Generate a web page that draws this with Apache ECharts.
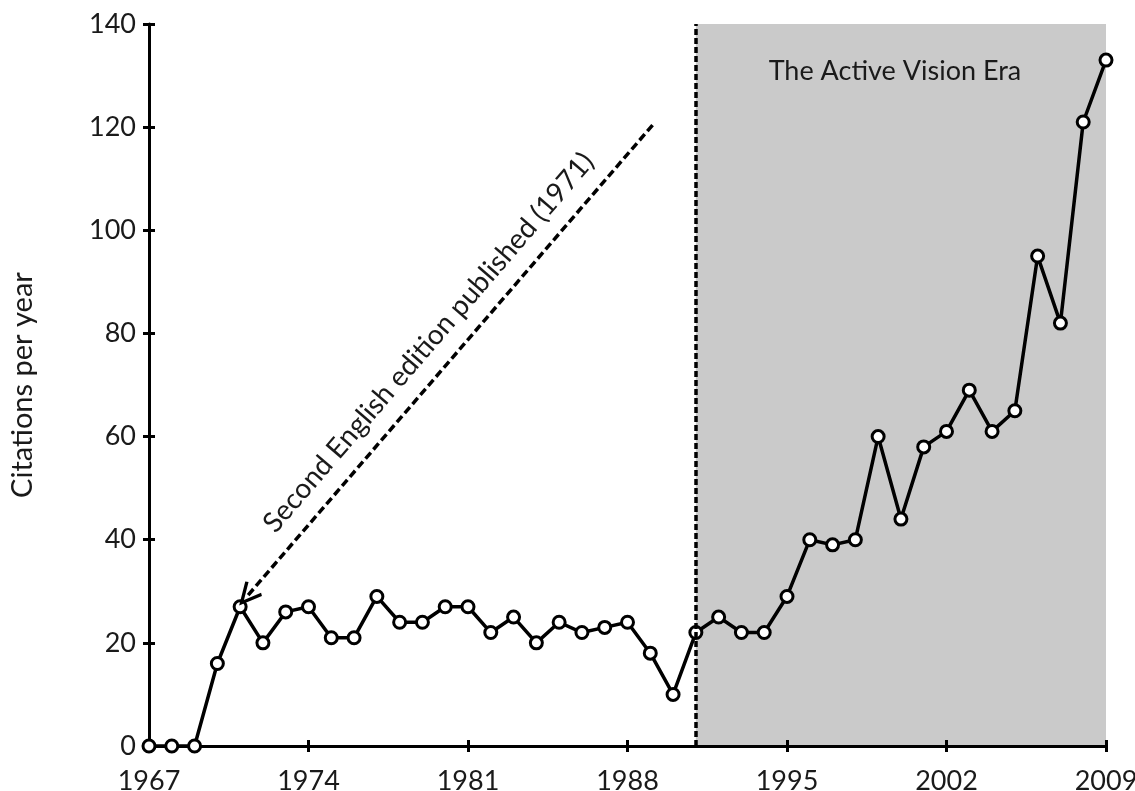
<!DOCTYPE html>
<html lang="en">
<head>
    <meta charset="UTF-8">
    <title>Citations per year</title>
    <script src="https://cdn.jsdelivr.net/npm/echarts@6/dist/echarts.min.js"></script>
    <style>
        html, body { margin: 0; padding: 0; background: #fff; }
        #main { width: 1135px; height: 791px; }
    </style>
</head>
<body>
    <div id="main"></div>
    <script>
        // data
        var years = [1967, 1968, 1969, 1970, 1971, 1972, 1973, 1974, 1975, 1976, 1977, 1978, 1979, 1980,
            1981, 1982, 1983, 1984, 1985, 1986, 1987, 1988, 1989, 1990, 1991, 1992, 1993, 1994,
            1995, 1996, 1997, 1998, 1999, 2000, 2001, 2002, 2003, 2004, 2005, 2006, 2007, 2008, 2009];
        var citations = [0, 0, 0, 16, 27, 20, 26, 27, 21, 21, 29, 24, 24, 27,
            27, 22, 25, 20, 24, 22, 23, 24, 18, 10, 22, 25, 22, 22,
            29, 40, 39, 40, 60, 44, 58, 61, 69, 61, 65, 95, 82, 121, 133];
        var eraStart = 1991;
        var eraEnd = 2009;
        var eraLabel = 'The Active Vision Era';
        var arrowFrom = [1989.1, 120.4];
        var arrowTo = [1971.3, 29];
        var arrowLabel = 'Second English edition published (1971)';

        var font = 'Lato, "Open Sans", sans-serif';
        var ink = '#1a1a1a';

        var points = years.map(function (y, i) { return [y, citations[i]]; });

        var myChart = echarts.init(document.getElementById('main'));

        myChart.setOption({
            animation: false,
            grid: { left: 149, right: 29, top: 24, bottom: 45, outerBoundsMode: 'none', containLabel: false },
            xAxis: [{
                type: 'value', min: 1967, max: 2009, interval: 7, z: 2,
                axisLine: { lineStyle: { color: '#000', width: 3 } },
                axisTick: { show: true, length: 6, lineStyle: { color: '#000', width: 3 } },
                axisLabel: { color: ink, fontSize: 27, fontFamily: font, margin: 22, formatter: function (v) { return String(v); } },
                splitLine: { show: false }
            }, {
                // inner half of the crossing ticks
                type: 'value', position: 'bottom', min: 1967, max: 2009, interval: 7, z: 2,
                axisLine: { show: false },
                axisTick: { show: true, inside: true, length: 6, lineStyle: { color: '#000', width: 3 } },
                axisLabel: { show: false },
                splitLine: { show: false }
            }],
            yAxis: [{
                type: 'value', min: 0, max: 140, interval: 20, z: 2,
                name: 'Citations per year', nameLocation: 'middle', nameGap: 112,
                nameTextStyle: { color: ink, fontSize: 29, fontFamily: font },
                axisLine: { show: true, lineStyle: { color: '#000', width: 3 } },
                axisTick: { show: true, length: 6, lineStyle: { color: '#000', width: 3 } },
                axisLabel: { color: ink, fontSize: 27, fontFamily: font, margin: 13 },
                splitLine: { show: false }
            }, {
                type: 'value', position: 'left', min: 0, max: 140, interval: 20, z: 2,
                axisLine: { show: false },
                axisTick: { show: true, inside: true, length: 6, lineStyle: { color: '#000', width: 3 } },
                axisLabel: { show: false },
                splitLine: { show: false }
            }],
            series: [{
                // shading, era divider and the arrow annotation
                type: 'line', z: 1, data: [], silent: true,
                markArea: {
                    silent: true,
                    itemStyle: { color: '#cacaca' },
                    label: {
                        show: true, position: 'insideTop', offset: [-6, 29],
                        color: ink, fontSize: 27, fontFamily: font
                    },
                    data: [[{ name: eraLabel, xAxis: eraStart, yAxis: 0 }, { xAxis: eraEnd, yAxis: 140 }]]
                },
                markLine: {
                    silent: true,
                    symbol: 'none',
                    data: [
                        [{ coord: [eraStart, 0], lineStyle: { color: '#000', width: 3.5, type: [6, 3] }, label: { show: false } },
                         { coord: [eraStart, 140] }],
                        [{
                            coord: arrowFrom, symbol: 'none',
                            lineStyle: { color: '#000', width: 3.5, type: [8, 4] },
                            label: {
                                show: true, formatter: arrowLabel, position: 'insideMiddleTop', distance: 14,
                                color: ink, fontSize: 28, fontFamily: font
                            }
                        }, {
                            coord: arrowTo,
                            symbol: 'path://M0,12L6,0L12,12L10.5,13L6,4L1.5,13Z',
                            symbolSize: [22, 24]
                        }]
                    ]
                }
            }, {
                type: 'line', z: 3,
                data: points,
                symbol: 'circle', symbolSize: 12,
                lineStyle: { color: '#000', width: 3.5 },
                itemStyle: { color: '#fff', borderColor: '#000', borderWidth: 3 }
            }]
        });
    </script>
</body>
</html>
